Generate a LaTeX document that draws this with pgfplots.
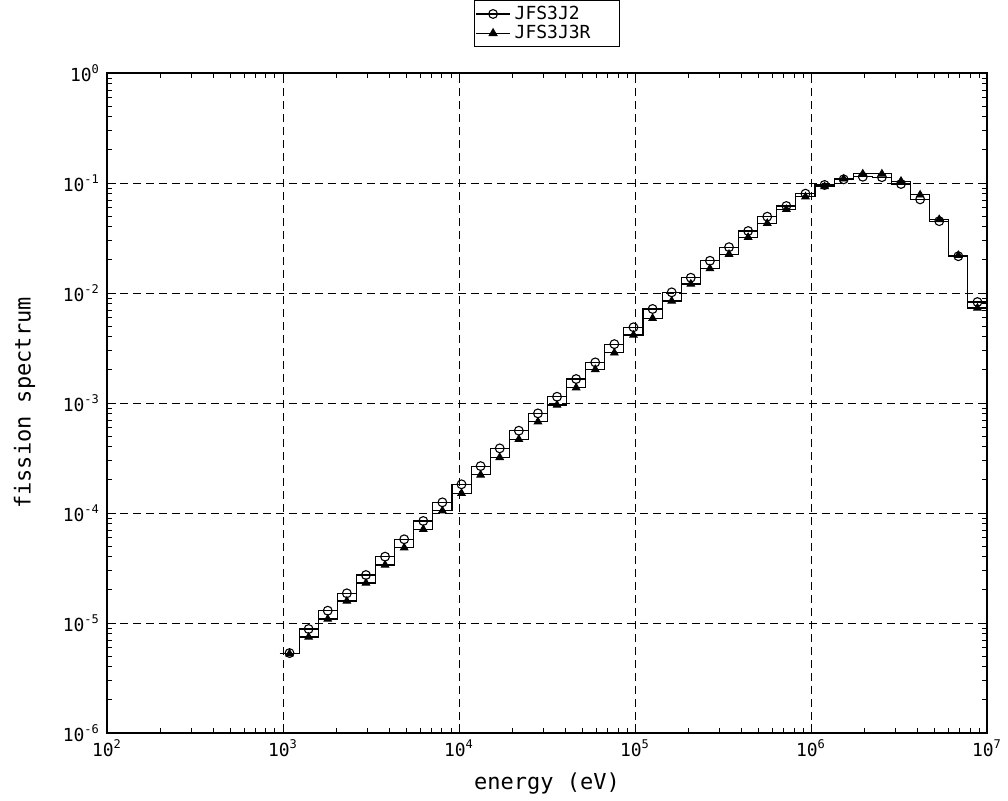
\documentclass[border=0pt]{standalone}
\usepackage{pgfplots}
\pgfplotsset{compat=1.18}
\usepackage{pgfplotstable}
\usepackage{fontspec}
\setmainfont{DejaVu Sans Mono}

% E = lower group boundary (eV), M = lethargy mid-point of group
\pgfplotstableread{
E        M        J2        J3R
961.12   1089.1   5.33e-6   5.25e-6
1234.1   1398.4   8.82e-6   7.46e-6
1584.6   1795.6   1.294e-5  1.087e-5
2034.7   2305.6   1.862e-5  1.585e-5
2612.6   2960.5   2.73e-5   2.31e-5
3354.6   3801.3   4.01e-5   3.37e-5
4307.4   4880.9   5.77e-5   4.84e-5
5530.8   6267.2   8.46e-5   7.11e-5
7101.7   8047.3   1.25e-4   1.049e-4
9118.8   10333    1.824e-4  1.511e-4
11709    13268    2.67e-4   2.22e-4
15034    17036    3.87e-4   3.20e-4
19305    21875    5.60e-4   4.68e-4
24788    28089    8.05e-4   6.76e-4
31828    36066    1.14e-3   9.59e-4
40868    46310    1.652e-3  1.377e-3
52475    59462    2.34e-3   2.02e-3
67379    76350    3.43e-3   2.86e-3
86517    98037    4.88e-3   4.15e-3
111090   125880   7.16e-3   5.89e-3
142640   161630   1.014e-2  8.46e-3
183160   207550   1.377e-2  1.208e-2
235180   266490   1.963e-2  1.667e-2
301970   342170   2.61e-2   2.25e-2
387740   439370   3.66e-2   3.21e-2
497870   564160   4.94e-2   4.30e-2
639280   724400   6.18e-2   5.77e-2
820850   930140   8.0e-2    7.5e-2
1053990  1194300  9.6e-2    9.3e-2
1353350  1533550  0.108     0.109
1737740  1969120  0.114     0.121
2231300  2528400  0.113     0.121
2865050  3246530  0.098     0.104
3678790  4168620  0.071     0.078
4723670  5352620  0.045     0.0466
6065310  6872900  0.0216    0.0220
7788010  8824980  8.28e-3   7.31e-3
10000000 10000000 8.28e-3   7.31e-3
}\groups

\begin{document}
\begin{tikzpicture}
\begin{axis}[
  scale only axis, width=440pt, height=330pt,
  xmode=log, ymode=log,
  xmin=1e2, xmax=1e7, ymin=1e-6, ymax=1,
  xtick={1e2,1e3,1e4,1e5,1e6,1e7},
  xticklabels={10\textsuperscript{2},10\textsuperscript{3},10\textsuperscript{4},10\textsuperscript{5},10\textsuperscript{6},10\textsuperscript{7}},
  minor xtick={200,300,400,500,600,700,800,900,2000,3000,4000,5000,6000,7000,8000,9000,2e4,3e4,4e4,5e4,6e4,7e4,8e4,9e4,2e5,3e5,4e5,5e5,6e5,7e5,8e5,9e5,2e6,3e6,4e6,5e6,6e6,7e6,8e6,9e6},
  ytick={1e-6,1e-5,1e-4,1e-3,1e-2,1e-1,1},
  yticklabels={10\textsuperscript{-6},10\textsuperscript{-5},10\textsuperscript{-4},10\textsuperscript{-3},10\textsuperscript{-2},10\textsuperscript{-1},10\textsuperscript{0}},
  minor ytick={2e-6,3e-6,4e-6,5e-6,6e-6,7e-6,8e-6,9e-6,2e-5,3e-5,4e-5,5e-5,6e-5,7e-5,8e-5,9e-5,2e-4,3e-4,4e-4,5e-4,6e-4,7e-4,8e-4,9e-4,2e-3,3e-3,4e-3,5e-3,6e-3,7e-3,8e-3,9e-3,2e-2,3e-2,4e-2,5e-2,6e-2,7e-2,8e-2,9e-2,0.2,0.3,0.4,0.5,0.6,0.7,0.8,0.9},
  grid=major,
  major grid style={black, line width=0.45pt, dash pattern=on 4pt off 2.5pt},
  axis line style={black, line width=0.6pt},
  tick style={black, line width=0.45pt},
  major tick length=4.5pt, minor tick length=2.5pt,
  xlabel={energy (eV)}, ylabel={fission spectrum},
  label style={font=\fontsize{11}{13}\selectfont},
  tick label style={font=\fontsize{9}{10}\selectfont},
  xlabel shift=1pt, ylabel shift=7pt,
  legend style={at={(0.5,1)}, anchor=south, yshift=13pt,
    font=\fontsize{9}{9.5}\selectfont, draw=black, line width=0.5pt,
    inner sep=0.5pt, row sep=-2.5pt},
  legend cell align=left,
]
\coordinate (O) at (rel axis cs:0,0);
\addplot[black, line width=0.55pt, const plot mark left, forget plot] table[x=E, y=J2] {\groups};
\addplot[black, line width=0.55pt, const plot mark left, forget plot] table[x=E, y=J3R] {\groups};
\addplot[black, only marks, mark=o, mark size=2.2pt, line width=0.55pt, forget plot, skip coords between index={37}{38}] table[x=M, y=J2] {\groups};
\addplot[black, only marks, mark=triangle*, mark size=2.2pt, forget plot, skip coords between index={37}{38}] table[x=M, y=J3R] {\groups};
\addlegendimage{black, line width=0.55pt, mark=o, mark size=2.2pt}
\addlegendentry{JFS3J2\hspace*{12pt}}
\addlegendimage{black, line width=0.55pt, mark=triangle*, mark size=2.2pt}
\addlegendentry{JFS3J3R\hspace*{12pt}}
\end{axis}
\pgfresetboundingbox
\path (O) ++(-53.5pt,-33.5pt) rectangle ++(504pt,400pt);
\end{tikzpicture}
\end{document}
